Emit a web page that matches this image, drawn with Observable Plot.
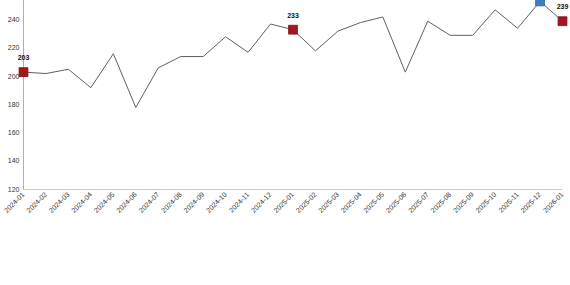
<!DOCTYPE html>
<html>
<head>
<meta charset="utf-8">
<script src="https://cdn.jsdelivr.net/npm/d3@7"></script>
<script src="https://cdn.jsdelivr.net/npm/@observablehq/plot@0.6"></script>
<style>
  html, body { margin: 0; padding: 0; background: #fff; }
</style>
</head>
<body>
<div id="chart"></div>
<script>
const months = ["2024-01","2024-02","2024-03","2024-04","2024-05","2024-06","2024-07","2024-08","2024-09","2024-10","2024-11","2024-12",
  "2025-01","2025-02","2025-03","2025-04","2025-05","2025-06","2025-07","2025-08","2025-09","2025-10","2025-11","2025-12","2026-01"];
const values = [203,202,205,192,216,178,206,214,214,228,217,237,233,218,232,238,242,203,239,229,229,247,234,253,239];
const yTicks = [120,140,160,180,200,220,240,260];
const redMonths = ["2024-01","2025-01","2026-01"];
const blueMonths = ["2025-12"];

const data = months.map((m, i) => ({month: m, value: values[i]}));
const red = data.filter(d => redMonths.includes(d.month));
const blue = data.filter(d => blueMonths.includes(d.month));
const baseRule = [{y: yTicks[0], a: months[0], b: months[months.length - 1]}];
const leftRule = [{x: months[0]}];

const chart = Plot.plot({
  width: 570,
  height: 285,
  marginTop: 0,
  marginBottom: 96,
  marginLeft: 23,
  marginRight: 8,
  style: {fontFamily: "Liberation Sans, Arial, sans-serif", fontSize: "7px", color: "#333", background: "#fff"},
  x: {type: "point", domain: months, range: [23, 562], padding: 0, round: false, label: null},
  y: {domain: [120, 260], range: [189, -9], label: null},
  marks: [
    Plot.ruleY(baseRule, {y: "y", x1: "a", x2: "b", stroke: "#c8c8c8", strokeWidth: 1}),
    Plot.ruleX(leftRule, {x: "x", stroke: "#b0b0b0", strokeWidth: 1}),
    Plot.axisY({ticks: yTicks, tickSize: 0, tickPadding: 4, label: null, fill: "#333"}),
    Plot.axisX({tickRotate: -45, tickSize: 0, tickPadding: 4, label: null, fill: "#333"}),
    Plot.line(data, {x: "month", y: "value", stroke: "#5b6166", strokeWidth: 1}),
    Plot.dot(red, {x: "month", y: "value", symbol: "square", r: 5, fill: "#a3161d", stroke: "#7d0f14", strokeWidth: 0.8}),
    Plot.dot(blue, {x: "month", y: "value", symbol: "square", r: 5, fill: "#3f7fbf", stroke: "#2f659c", strokeWidth: 0.8}),
    Plot.text(red.concat(blue), {x: "month", y: "value", text: d => String(d.value), dy: -14, fill: "#111", fontWeight: "bold", fontSize: 7})
  ]
});
document.getElementById("chart").appendChild(chart);
</script>
</body>
</html>
